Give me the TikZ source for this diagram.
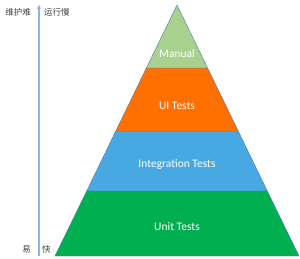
\documentclass[tikz,border=0pt]{standalone}
\usepackage{fontspec}
\setmainfont{Carlito}
\newfontfamily\cjk{Noto Sans CJK SC}
\usetikzlibrary{arrows.meta,positioning,calc}
\definecolor{ManualGreen}{RGB}{169,209,142}
\definecolor{UIOrange}{RGB}{255,112,0}
\definecolor{IntBlue}{RGB}{72,168,226}
\definecolor{UnitGreen}{RGB}{0,176,80}
\definecolor{EdgeBlue}{RGB}{84,120,170}
\definecolor{AxisBlue}{RGB}{141,180,226}
\definecolor{LabelGray}{RGB}{64,64,64}

\begin{document}
\begin{tikzpicture}[
    x=1pt, y=-1pt,
    layer/.style={draw=EdgeBlue, line width=0.4pt, line join=round},
    lbl/.style={font=\fontsize{11.5}{13}\selectfont, text=white, inner sep=0pt},
    cjklbl/.style={font=\cjk\fontsize{8.5}{10}\selectfont, text=LabelGray, inner sep=0pt},
    axis/.style={-{Stealth[length=4pt,width=4pt]}, draw=AxisBlue, line width=1.6pt}
  ]
    \useasboundingbox (0,0) rectangle (300,259);

    % pyramid layers, bottom to top
    \filldraw[layer, fill=UnitGreen] (55,256) -- (299,256) -- (267.3,191) -- (86.7,191) -- cycle;
    \filldraw[layer, fill=IntBlue] (86.7,191) -- (267.3,191) -- (238.2,131) -- (115.8,131) -- cycle;
    \filldraw[layer, fill=UIOrange] (115.8,131) -- (238.2,131) -- (207.6,68) -- (146.4,68) -- cycle;
    \filldraw[layer, fill=ManualGreen] (146.4,68) -- (207.6,68) -- (177,5) -- cycle;

    \node[lbl] (manual) at (177,54) {Manual};
    \node[lbl] (ui) at (177,106) {UI Tests};
    \node[lbl] (integ) at (177,165) {Integration Tests};
    \node[lbl] (unit) at (177,227) {Unit Tests};

    % cost axis
    \coordinate (axbot) at (39,256);
    \coordinate (axtop) at (39,5);
    \draw[axis] (axbot) -- (axtop);

    \node[cjklbl, anchor=east] (hard) at (31,12.5) {维护难};
    \node[cjklbl, anchor=west] (slow) at (44,12.5) {运行慢};
    \node[cjklbl, anchor=east] (easy) at (31,249) {易};
    \node[cjklbl, anchor=west] (fast) at (42,249) {快};
\end{tikzpicture}
\end{document}
